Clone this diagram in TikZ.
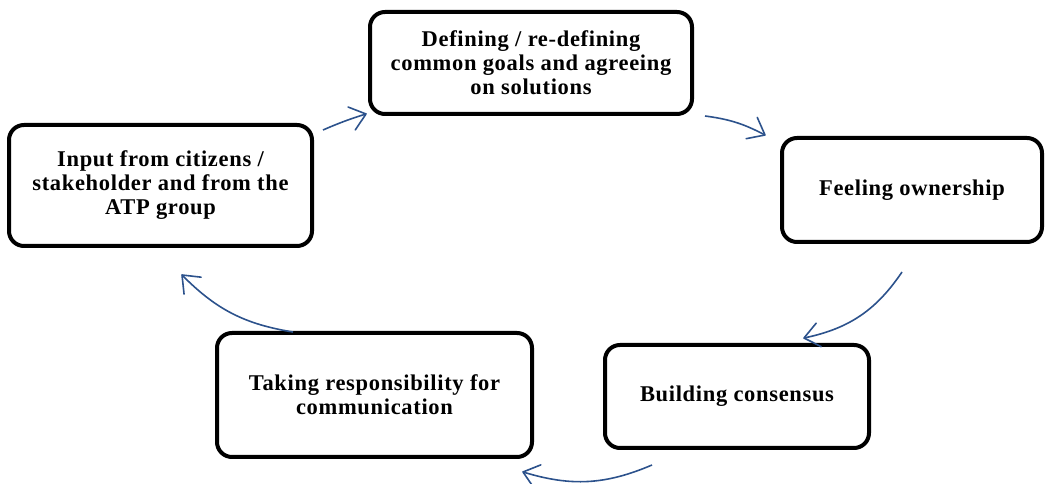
\documentclass[tikz,border=0pt]{standalone}
\usepackage{fontspec}
\setmainfont{Liberation Serif}
\usetikzlibrary{arrows.meta}
\definecolor{arrblue}{RGB}{44,82,140}
\pgfdeclarearrow{
  name = OpenVee,
  parameters = {\the\pgfarrowlength,\the\pgfarrowwidth},
  setup code = {
    \pgfarrowssettipend{0pt}
    \pgfarrowssetlineend{-0.7\pgflinewidth}
    \pgfarrowssetbackend{-\pgfarrowlength}
    \pgfarrowssavethe\pgfarrowlength
    \pgfarrowssavethe\pgfarrowwidth
  },
  drawing code = {
    \pgfsetroundjoin
    \pgfsetroundcap
    \pgfpathmoveto{\pgfqpoint{-\pgfarrowlength}{.5\pgfarrowwidth}}
    \pgfpathlineto{\pgfpointorigin}
    \pgfpathlineto{\pgfqpoint{-\pgfarrowlength}{-.5\pgfarrowwidth}}
    \pgfusepathqstroke
  },
  defaults = {length=15pt, width=24pt}
}
\tikzset{
  stage/.style={draw=black, line width=4pt, rounded corners=15pt, fill=white,
    align=center, inner sep=0pt,
    font=\fontsize{22.5}{24}\selectfont\bfseries\addfontfeature{LetterSpace=3}},
  flow/.style={draw=arrblue, line width=1.6pt,
    -{OpenVee[length=15pt,width=24pt]}}
}
\begin{document}
\begin{tikzpicture}[x=1pt,y=1pt]
\useasboundingbox (0,0) rectangle (1047,484);
\node[stage, minimum width=322pt, minimum height=102pt] (top) at (531,421)
  {Defining / re-defining\\common goals and agreeing\\on solutions};
\node[stage, minimum width=260pt, minimum height=104pt] (right) at (912,294)
  {Feeling ownership};
\node[stage, minimum width=264pt, minimum height=103pt] (br) at (737,87.5)
  {Building consensus};
\node[stage, minimum width=315pt, minimum height=124pt] (bl) at (374.5,89)
  {Taking responsibility for\\communication};
\node[stage, minimum width=303pt, minimum height=121pt] (left) at (160.5,298.5)
  {Input from citizens /\\stakeholder and from the\\ATP group};

\coordinate (a1s) at (323,354);
\coordinate (a1e) at (366,370);
\coordinate (a2s) at (705,368);
\coordinate (a2e) at (765,349);
\coordinate (a3s) at (902,212);
\coordinate (a3e) at (804,146);
\coordinate (a4s) at (652,19);
\coordinate (a4e) at (523,12);
\coordinate (a5s) at (293,152);
\coordinate (a5e) at (182,209);

\draw[flow] (a1s) to[bend left=3] (a1e);
\draw[flow] (a2s) to[bend left=10] (a2e);
\draw[flow] (a3s) to[bend left=22] (a3e);
\draw[flow] (a4s) to[bend left=20] (a4e);
\draw[flow] (a5s) to[bend left=18] (a5e);
\end{tikzpicture}
\end{document}
